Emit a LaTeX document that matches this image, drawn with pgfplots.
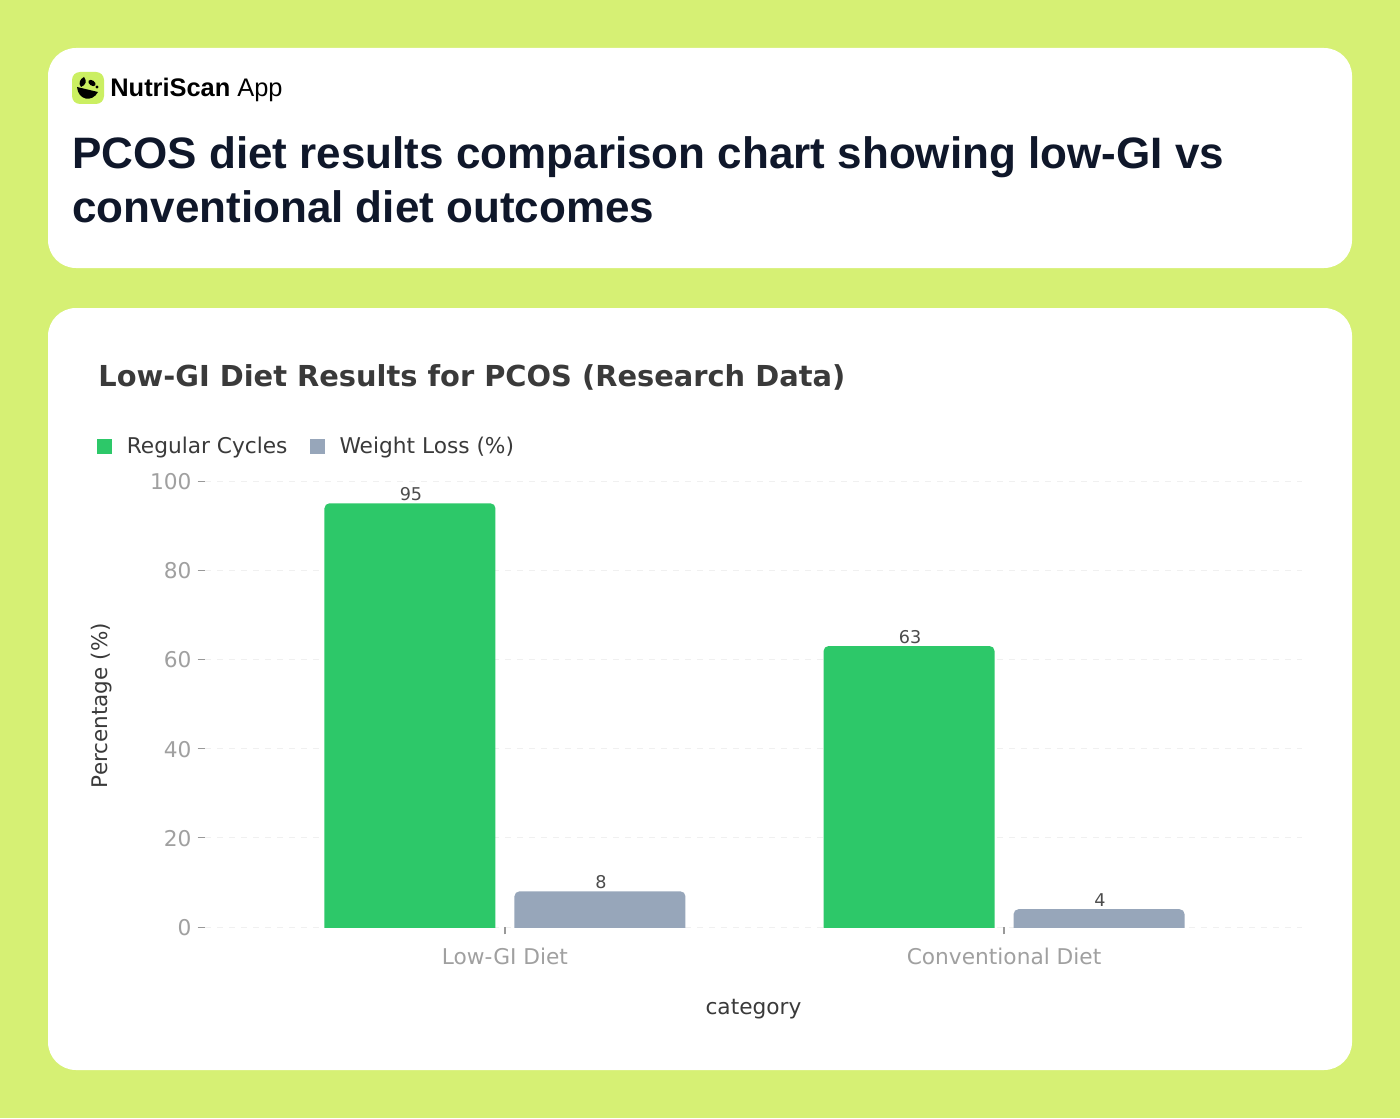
\documentclass[border=0pt]{standalone}
\usepackage{pgfplots}
\pgfplotsset{compat=1.18}
\usepackage{fontspec}
\setmainfont{DejaVu Sans}
\newfontfamily\headfont{Liberation Sans}
\definecolor{bg}{HTML}{D6F074}
\definecolor{lime}{HTML}{CBEF62}
\definecolor{ink}{HTML}{0F172A}
\definecolor{gbar}{HTML}{2DC869}
\definecolor{sbar}{HTML}{97A6BA}
\definecolor{tick}{HTML}{A0A0A0}
\definecolor{lab}{HTML}{3A3A3A}
\begin{document}
\begin{tikzpicture}[x=0.5pt,y=-0.5pt]
\path[use as bounding box,fill=bg] (0,0) rectangle (1400,1118);
\fill[white,rounded corners=14pt] (48,48) rectangle (1352,268);
\fill[white,rounded corners=14pt] (48,308) rectangle (1352,1070);
% logo
\fill[lime,rounded corners=4pt] (72,72) rectangle (104,104);
\fill[black] (77,87) .. controls (78,100) and (92,103) .. (98,92) -- cycle;
\fill[black] (81,87) .. controls (78,83) and (80,79) .. (84,77) .. controls (87,81) and (86,85) .. (81,87) -- cycle;
\fill[black,rotate around={-35:(92,83)}] (92,83) ellipse (4 and 2.6);
\fill[black] (97,87) circle (1.6);
\node[anchor=base west,inner sep=0pt,text=black] at (110,97) {\headfont\fontsize{12.7pt}{12.7pt}\selectfont\bfseries NutriScan};
\node[anchor=base west,inner sep=0pt,text=black] at (237,97) {\headfont\fontsize{12.7pt}{12.7pt}\selectfont App};
\node[anchor=base west,inner sep=0pt,text=ink] at (72,169) {\headfont\fontsize{22pt}{22pt}\selectfont\bfseries PCOS diet results comparison chart showing low-GI vs};
\node[anchor=base west,inner sep=0pt,text=ink] at (72,222) {\headfont\fontsize{22pt}{22pt}\selectfont\bfseries conventional diet outcomes};
\node[anchor=base west,inner sep=0pt,text=lab] at (98,386) {\fontsize{14.44pt}{14.44pt}\selectfont\bfseries Low-GI Diet Results for PCOS (Research Data)};
\begin{axis}[
  at={(102.5pt,-466.5pt)},anchor=south west,
  scale only axis,width=548.5pt,height=226pt,
  xmin=-0.601,xmax=1.597,
  ymin=-1.345,ymax=100,
  y coord trafo/.code={\pgfmathparse{#1+1.345}},
  y coord inv trafo/.code={\pgfmathparse{#1-1.345}},
  axis line style={draw=none},
  xtick={0,1},xticklabels={Low-GI Diet,Conventional Diet},
  ytick={0,20,40,60,80,100},yticklabels={0,20,40,60,80,100},
  tick align=outside,
  major tick length=3.7pt,
  x tick style={draw=gray!80,line width=0.6pt,yshift=3pt},
  y tick style={draw=gray!80,line width=0.5pt},
  xtick pos=bottom,ytick pos=left,
  tick label style={font=\fontsize{10.85pt}{10.85pt}\selectfont,text=tick},
  yticklabel style={xshift=0.5pt,yshift=-0.3pt},
  xticklabel style={yshift=-0.5pt},
  ymajorgrids,
  grid style={draw=black!6,dash pattern=on 3pt off 3pt,line width=0.4pt},
  xlabel={category},ylabel={Percentage (\%)},
  xlabel style={font=\fontsize{10.85pt}{10.85pt}\selectfont,text=lab,yshift=-10pt},
  ylabel style={font=\fontsize{10.75pt}{10.75pt}\selectfont,text=lab,yshift=12pt,xshift=0.7pt},
  ybar,bar width=85.5pt,
  legend columns=2,
  legend style={draw=none,fill=none,at={(-0.099,1.045)},anchor=south west,
    font=\fontsize{10.85pt}{10.85pt}\selectfont,text=lab,inner sep=0pt,
    /tikz/every odd column/.append style={column sep=5.5pt},
    /tikz/every even column/.append style={column sep=9pt}},
  legend image code/.code={\fill[#1,sharp corners] (0pt,-3.75pt) rectangle (7.5pt,3.75pt);},
  nodes near coords,point meta=explicit symbolic,
  every node near coord/.append style={font=\fontsize{8.8pt}{8.8pt}\selectfont,text=black!70,inner sep=1pt,xshift=0.5pt,rounded corners=0pt},
]
\begin{scope}
\clip (rel axis cs:0,0.01327) rectangle (rel axis cs:1,1);
\addplot+[bar shift=-47.5pt,fill=gbar,draw=none,rounded corners=2.5pt] coordinates {(0,95) [95] (1,63) [63]};
\addplot+[bar shift=47.5pt,fill=sbar,draw=none,rounded corners=2.5pt] coordinates {(0,8) [8] (1,4) [4]};
\end{scope}
\legend{Regular Cycles,Weight Loss (\%)}
\end{axis}
\end{tikzpicture}
\end{document}
